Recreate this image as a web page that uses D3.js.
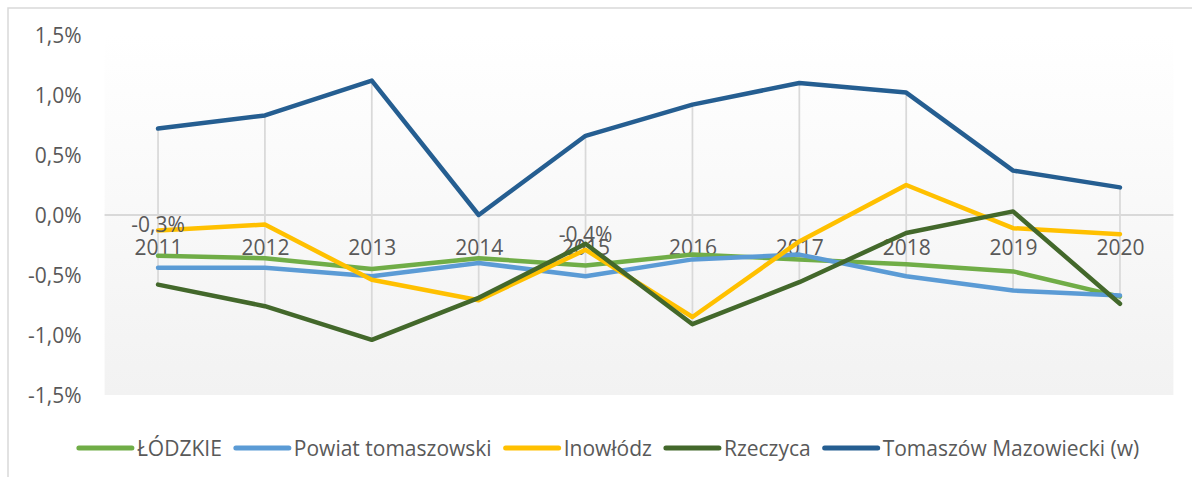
<!DOCTYPE html>
<html>
<head>
<meta charset="utf-8">
<script src="https://cdn.jsdelivr.net/npm/d3@7"></script>
<style>
  html, body { margin: 0; padding: 0; background: #ffffff; }
  svg { display: block; font-family: "Open Sans", "Liberation Sans", sans-serif; }
</style>
</head>
<body>
<svg id="chart" width="1192" height="477"></svg>
<script>
// Years on the category axis
const years = ["2011", "2012", "2013", "2014", "2015", "2016", "2017", "2018", "2019", "2020"];

// Annual change, in percent
const lodzkie   = [-0.34, -0.36, -0.45, -0.36, -0.42, -0.33, -0.37, -0.41, -0.47, -0.68];
const powiat    = [-0.44, -0.44, -0.51, -0.40, -0.51, -0.37, -0.33, -0.51, -0.63, -0.67];
const inowlodz  = [-0.13, -0.08, -0.54, -0.71, -0.29, -0.85, -0.22, 0.25, -0.11, -0.16];
const rzeczyca  = [-0.58, -0.76, -1.04, -0.69, -0.24, -0.91, -0.56, -0.15, 0.03, -0.74];
const tomaszow  = [0.72, 0.83, 1.12, 0.00, 0.66, 0.92, 1.10, 1.02, 0.37, 0.23];

const seriesNames = ["ŁÓDZKIE", "Powiat tomaszowski", "Inowłódz", "Rzeczyca", "Tomaszów Mazowiecki (w)"];
const seriesValues = [lodzkie, powiat, inowlodz, rzeczyca, tomaszow];
const seriesColors = ["#70AD47", "#5B9BD5", "#FFC000", "#43682B", "#255E91"];

// Value axis ticks
const yTicks = [-1.5, -1.0, -0.5, 0.0, 0.5, 1.0, 1.5];

// Data labels shown on the ŁÓDZKIE line
const labelledYears = ["2011", "2015"];

const svg = d3.select("#chart");
const W = 1192, H = 477;
const plot = { left: 104.6, right: 1173.4, top: 35, bottom: 395 };
const textColor = "#595959";
const gridColor = "#D9D9D9";
const fontSize = 21;

const locale = d3.formatLocale({ decimal: ",", thousands: " ", grouping: [3], currency: ["", " zł"], minus: "-" });
const fmt = v => locale.format(".1f")(v) + "%";

const x = d3.scalePoint().domain(years).range([plot.left, plot.right]).padding(0.5);
const y = d3.scaleLinear().domain([-1.5, 1.5]).range([plot.bottom, plot.top]);

// Chart frame
svg.append("path")
  .attr("d", `M8,${H + 5} L8,8 L${W + 5},8`)
  .attr("fill", "none")
  .attr("stroke", gridColor)
  .attr("stroke-width", 1.5);

// Plot area fill
const defs = svg.append("defs");
const grad = defs.append("linearGradient")
  .attr("id", "plotFill").attr("x1", 0).attr("y1", 0).attr("x2", 0).attr("y2", 1);
grad.append("stop").attr("offset", "0%").attr("stop-color", "#ffffff");
grad.append("stop").attr("offset", "100%").attr("stop-color", "#f2f2f2");

svg.append("rect")
  .attr("x", plot.left).attr("y", plot.top)
  .attr("width", plot.right - plot.left).attr("height", plot.bottom - plot.top)
  .attr("fill", "url(#plotFill)");

// High-low lines spanning all series at each year
svg.append("g").selectAll("line")
  .data(years.map((yr, i) => ({ yr, hi: d3.max(seriesValues, s => s[i]), lo: d3.min(seriesValues, s => s[i]) })))
  .join("line")
  .attr("x1", d => x(d.yr)).attr("x2", d => x(d.yr))
  .attr("y1", d => y(d.hi)).attr("y2", d => y(d.lo))
  .attr("stroke", gridColor).attr("stroke-width", 1.75);

// Category axis line at zero
svg.append("line")
  .attr("x1", plot.left).attr("x2", plot.right)
  .attr("y1", y(0)).attr("y2", y(0))
  .attr("stroke", gridColor).attr("stroke-width", 2);

// Value axis labels
const yAxis = svg.append("g")
  .attr("transform", `translate(${plot.left - 23},0)`)
  .call(d3.axisLeft(y).tickValues(yTicks).tickFormat(fmt).tickSize(0).tickPadding(0));
yAxis.select(".domain").remove();
yAxis.selectAll("text")
  .attr("fill", textColor).attr("font-size", fontSize)
  .attr("font-family", "'Open Sans', 'Liberation Sans', sans-serif")
  .attr("dy", "0.36em");

// Year labels below the zero line
const xAxis = svg.append("g")
  .attr("transform", `translate(0,${y(0)})`)
  .call(d3.axisBottom(x).tickSize(0).tickPadding(0));
xAxis.select(".domain").remove();
xAxis.selectAll("text")
  .attr("fill", textColor).attr("font-size", fontSize)
  .attr("font-family", "'Open Sans', 'Liberation Sans', sans-serif")
  .attr("y", 32).attr("dy", "0.36em");

// Series lines
const line = d3.line().x((d, i) => x(years[i])).y(d => y(d));
svg.append("g").selectAll("path")
  .data(seriesValues)
  .join("path")
  .attr("d", d => line(d))
  .attr("fill", "none")
  .attr("stroke", (d, i) => seriesColors[i])
  .attr("stroke-width", 4.5)
  .attr("stroke-linejoin", "round")
  .attr("stroke-linecap", "round");

// Value labels on the ŁÓDZKIE series
svg.append("g").selectAll("text")
  .data(labelledYears)
  .join("text")
  .attr("x", d => x(d))
  .attr("y", d => y(lodzkie[years.indexOf(d)]) - 31)
  .attr("dy", "0.36em")
  .attr("text-anchor", "middle")
  .attr("fill", textColor).attr("font-size", fontSize)
  .text(d => fmt(lodzkie[years.indexOf(d)]));

// Legend
const legendY = 448;
const swatch = 53, swatchGap = 5, itemGap = 14;
const legend = svg.append("g");
const items = legend.selectAll("g")
  .data(seriesNames)
  .join("g");
items.append("line")
  .attr("x1", 0).attr("x2", swatch)
  .attr("y1", legendY).attr("y2", legendY)
  .attr("stroke", (d, i) => seriesColors[i])
  .attr("stroke-width", 5)
  .attr("stroke-linecap", "round");
items.append("text")
  .attr("x", swatch + swatchGap)
  .attr("y", legendY).attr("dy", "0.36em")
  .attr("fill", textColor).attr("font-size", fontSize)
  .text(d => d);

let offset = 0;
const widths = [];
items.each(function () {
  const w = d3.select(this).select("text").node().getComputedTextLength();
  widths.push(swatch + swatchGap + w);
});
const total = d3.sum(widths) + itemGap * (widths.length - 1);
const startX = 609 - total / 2;
items.attr("transform", (d, i) => {
  const tx = startX + offset;
  offset += widths[i] + itemGap;
  return `translate(${tx},0)`;
});
</script>
</body>
</html>
